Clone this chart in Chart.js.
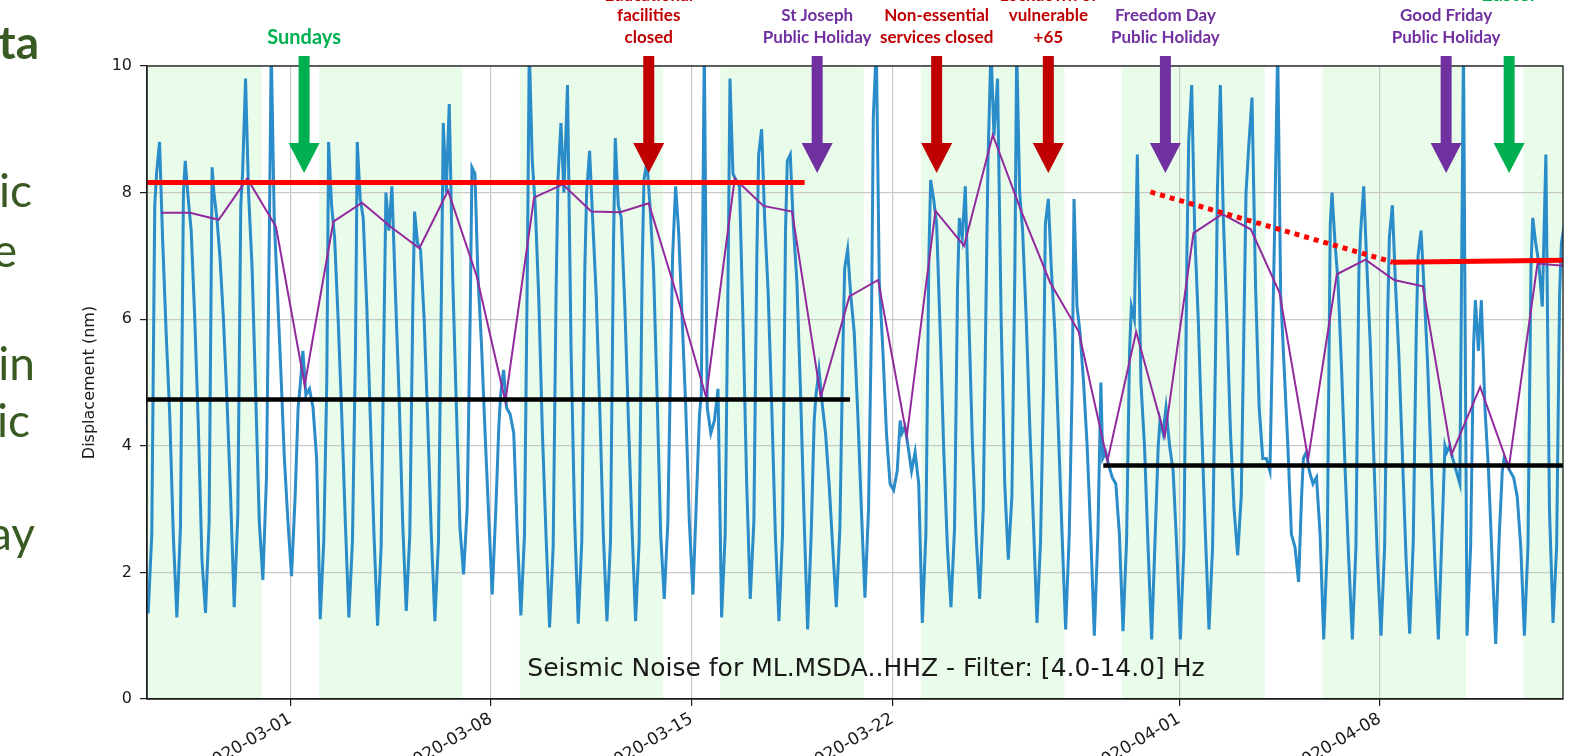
<!DOCTYPE html>
<html><head><meta charset="utf-8">
<script src="https://cdn.jsdelivr.net/npm/chart.js@4.4.1/dist/chart.umd.min.js"></script>
<style>html,body{margin:0;padding:0;background:#fff;overflow:hidden}canvas{display:block}</style>
</head><body>
<canvas id="c" width="1588" height="756"></canvas>
<script>
// ================= DATA =================
const xStart = '2020-02-25T00:00';
const xEnd = '2020-04-14T09:20';
const tickLabels = ['2020-03-01','2020-03-08','2020-03-15','2020-03-22','2020-04-01','2020-04-08'];
const yTickValues = [0, 2, 4, 6, 8, 10];
const firstDay = '2020-02-25';
const dayDates = ['02-25','02-26','02-27','02-28','02-29','03-01','03-02','03-03','03-04','03-05','03-06','03-07','03-08','03-09','03-10','03-11','03-12','03-13','03-14','03-15','03-16','03-17','03-18','03-19','03-20','03-21','03-22','03-23','03-24','03-25','03-26','03-27','03-28','03-29','03-30','03-31','04-01','04-02','04-03','04-04','04-05','04-06','04-07','04-08','04-09','04-10','04-11','04-12','04-13','04-14'];
// hour of day of each reading
const sampleHours = [1, 4, 6.5, 8, 10.5, 13, 16, 19, 22];
// seismic displacement readings (nm), one value per day for each sample hour
const h01 = [1.35,1.29,1.36,1.45,1.88,1.94,1.26,1.29,1.16,1.39,1.23,1.97,1.65,1.32,1.13,1.19,1.23,1.23,1.58,1.65,1.29,1.58,1.23,1.10,1.45,1.60,3.30,1.20,1.45,1.58,2.20,1.20,1.10,1.00,1.07,0.94,0.94,1.10,2.27,3.80,2.40,0.94,0.94,1.00,1.03,0.94,1.00,0.87,1.00,1.20];
const h04 = [2.6,2.7,2.8,2.9,3.5,3.2,2.5,2.5,2.4,2.6,2.5,3.0,3.0,2.6,2.4,2.5,2.5,2.5,2.8,3.2,2.6,2.8,2.6,2.6,2.7,3.0,3.6,2.6,2.7,3.0,3.2,2.5,2.6,2.6,2.5,2.6,2.4,2.4,3.2,3.6,1.85,2.4,2.4,2.4,2.5,2.6,2.4,2.6,2.4,2.4];
const h06 = [7.8,8.0,8.4,7.8,7.5,4.6,5.0,5.5,6.0,6.2,6.5,6.0,4.3,7.0,6.5,6.8,7.2,6.8,5.5,4.5,6.8,7.0,7.4,4.4,5.5,6.0,4.4,7.0,6.5,6.5,6.8,5.0,5.0,5.0,5.5,4.0,7.0,5.5,6.2,6.0,3.2,7.5,6.8,6.0,5.8,4.0,5.6,3.6,6.8,6.4];
const h08 = [8.3,8.5,8.0,8.3,10.3,4.9,8.8,8.8,8.0,7.7,9.1,8.4,4.8,10.3,8.2,8.0,8.86,8.2,7.0,4.8,9.8,8.6,8.5,4.8,6.8,9.2,4.2,8.2,7.6,8.5,10.3,7.5,7.9,3.8,6.2,4.4,8.8,8.0,8.0,7.5,3.8,8.0,7.4,7.3,7.0,3.9,6.3,3.8,7.6,7.2];
const h10 = [8.8,7.9,7.6,9.8,7.6,5.5,7.8,7.9,7.4,7.2,8.0,8.3,5.2,8.5,9.1,8.66,7.8,8.5,8.1,10.3,8.3,9.0,8.6,5.2,7.1,10.3,4.3,7.9,7.3,10.3,8.0,7.9,6.2,3.9,6.0,4.2,9.7,9.7,8.8,10.3,3.9,7.2,8.1,7.8,7.4,4.0,5.5,3.7,7.2,7.5];
const h13 = [7.3,7.4,7.0,8.0,6.5,4.8,7.3,7.6,8.1,7.1,9.4,6.7,4.6,7.8,8.0,7.6,7.6,7.8,7.4,4.6,8.2,7.6,7.5,4.7,6.4,6.6,4.0,7.5,8.1,8.9,7.4,6.8,5.8,3.7,8.6,4.6,7.4,7.6,9.5,6.4,3.6,6.6,6.9,6.6,6.5,3.8,6.3,3.6,6.9];
const h16 = [5.8,6.0,6.0,6.8,5.2,4.9,6.0,6.2,6.4,6.0,6.6,5.6,4.5,6.3,9.7,6.4,6.2,6.8,6.0,4.2,8.1,6.4,6.6,4.2,5.8,5.5,3.6,5.8,6.0,9.8,6.0,5.8,5.0,3.5,5.0,4.0,6.0,6.0,6.5,5.2,3.4,5.2,5.6,5.4,5.3,3.6,4.6,3.5,6.2];
const h19 = [4.5,4.3,4.7,4.8,3.8,4.6,4.5,4.4,4.8,4.4,4.6,4.2,4.2,4.2,5.5,4.6,4.4,4.8,4.6,4.4,5.9,4.6,4.9,3.4,4.5,4.2,3.9,3.9,4.0,6.0,4.3,4.2,4.0,3.4,4.0,3.6,4.2,4.2,4.6,4.0,3.5,3.6,3.8,3.8,3.7,3.4,3.6,3.2,8.6];
const h22 = [2.6,2.2,3.2,2.8,2.8,3.8,2.8,2.6,2.8,2.6,2.7,2.9,2.6,2.6,2.8,2.6,2.7,2.6,2.8,4.9,3.4,2.6,2.9,2.4,3.0,3.4,3.4,2.4,2.6,3.4,2.8,2.6,2.6,2.6,2.4,2.4,2.6,3.0,3.8,2.6,2.6,2.2,2.2,2.2,2.2,10.3,2.2,2.4,3.0];
// daily level (nm), plotted at noon of each day
const dailyLevel = [7.68,7.68,7.57,8.22,7.46,4.96,7.54,7.84,7.46,7.12,8.03,6.68,4.70,7.92,8.13,7.70,7.69,7.83,6.35,4.77,8.22,7.79,7.70,4.77,6.36,6.62,4.15,7.71,7.16,8.91,7.70,6.58,5.80,3.76,5.80,4.15,7.36,7.66,7.42,6.42,3.79,6.71,6.94,6.62,6.52,3.86,4.93,3.66,6.88,6.84];
// working-day periods (shaded)
const weekdaySpans = [['2020-02-25','2020-02-29'],['2020-03-02','2020-03-07'],['2020-03-09','2020-03-14'],['2020-03-16','2020-03-21'],['2020-03-23','2020-03-28'],['2020-03-30','2020-04-04'],['2020-04-06','2020-04-11'],['2020-04-13','2020-04-18']];
// reference levels: [date, value]
const highLevelBefore = [['2020-02-25T00:00', 8.16], ['2020-03-18T22:30', 8.16]];
const highLevelTrend = [['2020-03-31T00:00', 8.01], ['2020-04-08T11:00', 6.90]];
const highLevelAfter = [['2020-04-08T11:00', 6.90], ['2020-04-14T09:20', 6.93]];
const lowLevelBefore = [['2020-02-25T00:00', 4.73], ['2020-03-20T12:30', 4.73]];
const lowLevelAfter = [['2020-03-29T08:30', 3.69], ['2020-04-14T09:20', 3.69]];
// events
const eventDates = ['2020-03-01T11:30','2020-03-13T12:00','2020-03-19T09:00','2020-03-23T13:00','2020-03-27T10:30','2020-03-31T12:30','2020-04-10T07:30','2020-04-12T12:15'];
const eventLabels = [['Sundays'],['Educational','facilities','closed'],['St Joseph','Public Holiday'],['Non-essential','services closed'],['Lockdown of','vulnerable','+65'],['Freedom Day','Public Holiday'],['Good Friday','Public Holiday'],['Easter','','']];
const eventKinds = ['weekend','measure','holiday','measure','measure','holiday','holiday','weekend'];
const chartTitle = 'Seismic Noise for ML.MSDA..HHZ - Filter: [4.0-14.0] Hz';
const yTitle = 'Displacement (nm)';
const slideFragments = ['ta','ic','e','in','ic','ay'];

// ================= HELPERS =================
const T0 = Date.parse('2020-03-01T00:00:00Z');
const toDay = s => (Date.parse(s.length === 10 ? s + 'T00:00:00Z' : s + ':00Z') - T0) / 864e5;
const day0 = toDay(firstDay);
const hourSeries = [h01, h04, h06, h08, h10, h13, h16, h19, h22];
const bluePts = [];
dayDates.forEach((d, i) => {
  sampleHours.forEach((h, k) => {
    const v = hourSeries[k][i];
    if (v !== undefined) bluePts.push({x: day0 + i + h / 24, y: v});
  });
});
const dailyPts = dailyLevel.map((v, i) => ({x: day0 + i + 0.5, y: v}));
const seg = arr => arr.map(([d, v]) => ({x: toDay(d), y: v}));

// ================= STYLE =================
const kindColor = {weekend: '#00b050', measure: '#c00000', holiday: '#7030a0'};
const slideLayout = [
  {right: 39, base: 59, bold: true}, {right: 32, base: 207}, {right: 17, base: 267},
  {right: 35, base: 380}, {right: 30, base: 437}, {right: 35, base: 550}
];
const gridColor = '#c9c9c9';

const decor = {
  id: 'decor',
  beforeDraw(chart) {
    const {ctx, chartArea: a, scales: {x}} = chart;
    ctx.save();
    ctx.fillStyle = 'rgba(144,238,144,0.2)';
    weekdaySpans.forEach(([s, e]) => {
      const x0 = Math.max(a.left, x.getPixelForValue(toDay(s)));
      const x1 = Math.min(a.right, x.getPixelForValue(toDay(e)));
      if (x1 > x0) ctx.fillRect(x0, a.top, x1 - x0, a.bottom - a.top);
    });
    ctx.restore();
  },
  afterDraw(chart) {
    const {ctx, chartArea: a, scales: {x}} = chart;
    ctx.save();
    // spines
    ctx.strokeStyle = '#1a1a1a'; ctx.lineWidth = 1.3;
    ctx.strokeRect(a.left, a.top, a.right - a.left, a.bottom - a.top);
    // in-plot title
    ctx.fillStyle = '#1a1a1a';
    ctx.font = '25px "DejaVu Sans"';
    ctx.textAlign = 'center'; ctx.textBaseline = 'middle';
    ctx.fillText(chartTitle, (a.left + a.right) / 2 + 11, a.bottom - 30);
    // events
    eventDates.forEach((d, i) => {
      const cx = x.getPixelForValue(toDay(d));
      const col = kindColor[eventKinds[i]];
      ctx.fillStyle = col;
      const shaftTop = a.top - 10, headTop = a.top + 77, tip = a.top + 107;
      ctx.fillRect(cx - 5.5, shaftTop, 11, headTop - shaftTop + 1);
      ctx.beginPath();
      ctx.moveTo(cx - 15.5, headTop); ctx.lineTo(cx + 15.5, headTop); ctx.lineTo(cx, tip);
      ctx.closePath(); ctx.fill();
      const lines = eventLabels[i];
      const big = eventKinds[i] === 'weekend';
      ctx.font = 'bold ' + (big ? 20 : 17) + 'px Lato';
      ctx.textAlign = 'center'; ctx.textBaseline = 'middle';
      const n = lines.length;
      lines.forEach((t, j) => {
        const y = j === n - 1 ? 38 : (j === n - 2 ? 16 : (big ? -5 : -4.5));
        if (t) ctx.fillText(t, cx, y);
      });
    });
    // slide text fragments
    ctx.fillStyle = '#3a5a23';
    ctx.textAlign = 'right'; ctx.textBaseline = 'alphabetic';
    slideFragments.forEach((t, i) => {
      const L = slideLayout[i];
      ctx.font = (L.bold ? 'bold ' : '') + '46px Lato';
      ctx.fillText(t, L.right, L.base);
    });
    ctx.restore();
  }
};

const lineDs = (data, color, width, order, extra) => Object.assign({
  data, borderColor: color, borderWidth: width, pointRadius: 0, tension: 0,
  fill: false, order, clip: 0
}, extra || {});

new Chart(document.getElementById('c'), {
  type: 'line',
  data: {
    datasets: [
      lineDs(seg(highLevelBefore), '#ff0000', 5, 1),
      lineDs(seg(highLevelAfter), '#ff0000', 5, 1),
      lineDs(seg(highLevelTrend), '#ff0000', 5, 1, {borderDash: [5, 5]}),
      lineDs(seg(lowLevelBefore), '#000000', 4.5, 2),
      lineDs(seg(lowLevelAfter), '#000000', 4.5, 2),
      lineDs(dailyPts, '#922a9e', 2, 3),
      lineDs(bluePts, '#2a8cc8', 3, 4)
    ]
  },
  options: {
    responsive: false, animation: false, devicePixelRatio: 1,
    parsing: false,
    layout: {padding: {top: 66, right: 25, bottom: 0, left: 0}},
    plugins: {legend: {display: false}, tooltip: {enabled: false}},
    scales: {
      x: {
        type: 'linear', min: toDay(xStart), max: toDay(xEnd),
        afterBuildTicks: s => { s.ticks = tickLabels.map(t => ({value: toDay(t)})); },
        afterFit: s => { s.height = 57; },
        ticks: {
          autoSkip: false, maxRotation: 30, minRotation: 30, padding: 3,
          color: '#1a1a1a', font: {family: 'DejaVu Sans', size: 17},
          callback: (v, i) => tickLabels[i]
        },
        grid: {color: gridColor, lineWidth: 1.2, tickColor: '#1a1a1a', tickLength: 7, tickWidth: 1.2},
        border: {display: true, color: '#1a1a1a', width: 1.3}
      },
      y: {
        min: 0, max: 10,
        afterBuildTicks: s => { s.ticks = yTickValues.map(v => ({value: v})); },
        afterFit: s => { s.width = 147; },
        ticks: {padding: 8, color: '#1a1a1a', font: {family: 'DejaVu Sans', size: 16}},
        grid: {color: gridColor, lineWidth: 1.2, tickColor: '#1a1a1a', tickLength: 7, tickWidth: 1.2},
        border: {display: true, color: '#1a1a1a', width: 1.3},
        title: {display: true, text: yTitle, color: '#1a1a1a',
          font: {family: 'DejaVu Sans', size: 16}, padding: {top: 80, bottom: 0}}
      }
    }
  },
  plugins: [decor]
});
</script>
</body></html>
